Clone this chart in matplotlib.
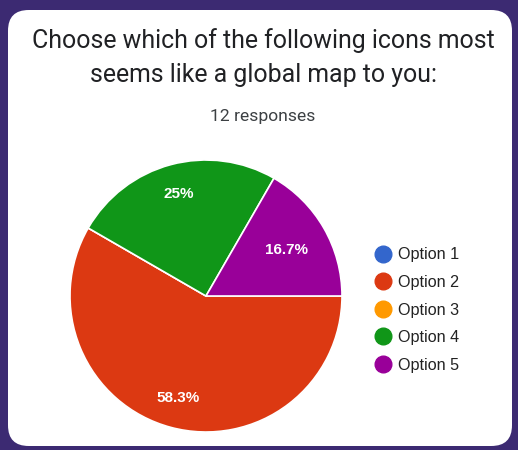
import matplotlib
matplotlib.use("Agg")
import numpy as np
import matplotlib.pyplot as plt
from matplotlib.patches import FancyBboxPatch
from matplotlib.lines import Line2D

title = "Choose which of the following icons most\nseems like a global map to you:"
subtitle = "12 responses"
options = ["Option 1", "Option 2", "Option 3", "Option 4", "Option 5"]
counts = [0, 7, 0, 3, 2]
colors = ["#3366cc", "#dc3912", "#ff9900", "#109618", "#990099"]

W, H = 518, 450
DPI = 100
fig = plt.figure(figsize=(W / DPI, H / DPI), dpi=DPI, facecolor="#3c2a72")

# white rounded card behind everything
card = FancyBboxPatch((8 / W, 4 / H), (W - 14) / W, (H - 14) / H,
                      boxstyle="round,pad=0,rounding_size=0.04",
                      transform=fig.transFigure, facecolor="white", edgecolor="none",
                      mutation_aspect=W / H, zorder=-10)
fig.patches.append(card)

fig.text(263 / W, 1 - 57.5 / H, title, ha="center", va="center", fontsize=17.9,
         family="Roboto", color="#202124", linespacing=1.5)
fig.text(263 / W, 1 - 117 / H, subtitle, ha="center", va="center", fontsize=12.6,
         family="Roboto", color="#3c4043")

# pie
cx, cy, r = 206, 296, 136
ax = fig.add_axes([(cx - r) / W, (H - cy - r) / H, 2 * r / W, 2 * r / H])


def fmt(p):
    if p <= 0:
        return ""
    s = f"{p:.1f}"
    if s.endswith(".0"):
        s = s[:-2]
    return s + "%"


wedges, texts, autotexts = ax.pie(
    counts, colors=colors, startangle=0, counterclock=False,
    autopct=fmt, pctdistance=0.78, radius=1,
    wedgeprops=dict(edgecolor="white", linewidth=1.2),
    textprops=dict(color="white", fontsize=11, family="Liberation Sans",
                   fontweight="bold"))

# the narrow slice gets its label a little closer to the centre
w5, t5 = wedges[4], autotexts[4]
mid = np.deg2rad((w5.theta1 + w5.theta2) / 2)
t5.set_position((0.68 * np.cos(mid), 0.68 * np.sin(mid)))

ax.set_xlim(-1, 1)
ax.set_ylim(-1, 1)
ax.set_aspect("equal")
ax.axis("off")

handles = [Line2D([], [], marker="o", linestyle="none", markersize=12,
                  markerfacecolor=c, markeredgecolor=c) for c in colors]
fig.legend(handles, options, loc="center left",
           bbox_to_anchor=(377 / W, 1 - 310 / H), frameon=False,
           prop=dict(family="Liberation Sans", size=11.6), labelcolor="#222222",
           handlelength=0.8, handletextpad=0.5, labelspacing=0.78,
           borderpad=0, borderaxespad=0)

fig.savefig("out.png", dpi=DPI, facecolor=fig.get_facecolor())
